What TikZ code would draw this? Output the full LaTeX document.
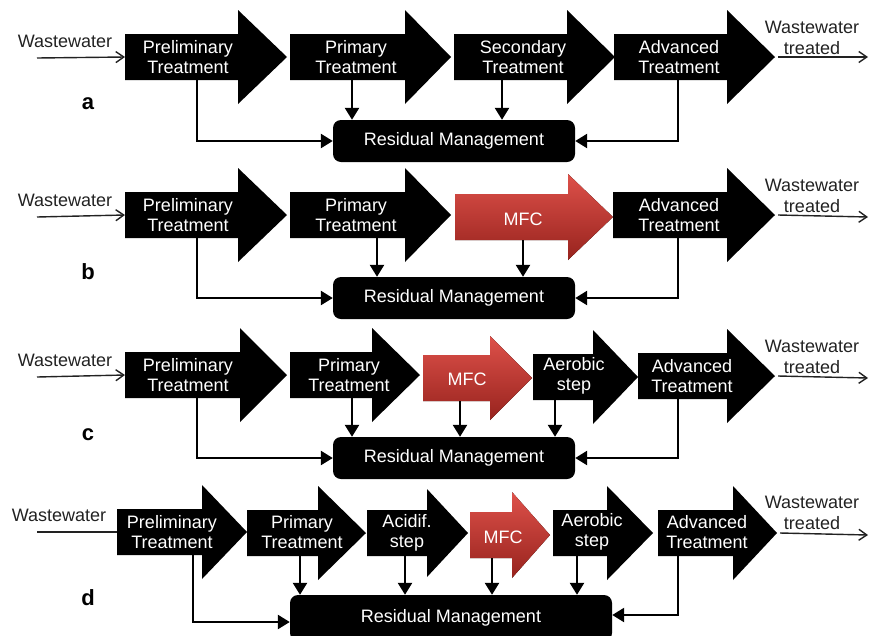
\documentclass[tikz,border=0pt]{standalone}
\usepackage{fontspec}
\setmainfont{Liberation Sans}
\usetikzlibrary{arrows.meta}
\definecolor{mfcred}{HTML}{D8322A}
\definecolor{inkgray}{HTML}{222222}

% block arrow: style, name, tail x, head x, tip x, centre y, half head width, outlet x
\newcommand{\stagearrow}[8][stagefill]{%
  \fill[#1] (#3,#6-23) -- (#4,#6-23) -- (#4,#6-#7) -- (#5,#6) -- (#4,#6+#7) -- (#4,#6+23) -- (#3,#6+23) -- cycle;
  \coordinate (#2-in) at (#3,#6);
  \coordinate (#2-tip) at (#5,#6);
  \coordinate (#2-out) at (#8,#6+23);}

\begin{document}
\begin{tikzpicture}[x=1pt, y=-1pt,
  font=\fontsize{18}{20.5}\selectfont,
  stagefill/.style={fill=black},
  mfcfill/.style={top color=mfcred!85!white, middle color=mfcred, bottom color=mfcred!70!black},
  txt/.style={text=white, align=center, inner sep=0pt},
  plain/.style={text=inkgray, align=center, inner sep=0pt},
  resid/.style={fill=black, rounded corners=8pt, text=white, minimum width=242pt, minimum height=42pt, inner sep=0pt},
  tag/.style={font=\fontsize{22}{24}\selectfont\bfseries, inner sep=0pt},
  flow/.style={draw=inkgray, line width=1.4pt, -{Straight Barb[length=8pt, width=11pt]}},
  feed/.style={line width=2.5pt, -{Triangle[length=12pt, width=14pt]}}
]
\useasboundingbox (0,0) rectangle (869,635);

% (a) conventional treatment
\stagearrow{preA}{125}{238}{287}{57}{47}{197}
\stagearrow{primA}{290}{405}{451}{57}{47}{352}
\stagearrow{secA}{454}{567}{615}{57}{47}{502}
\stagearrow{advA}{614}{727}{775}{57}{47}{678}
\node[txt] (preA) at (188,57) {Preliminary\\Treatment};
\node[txt] (primA) at (356,57) {Primary\\Treatment};
\node[txt] (secA) at (523,57) {Secondary\\Treatment};
\node[txt] (advA) at (679,57) {Advanced\\Treatment};
\node[resid] (resA) at (454,141) {Residual Management};
\node[tag] (labA) at (88,104) {a};
\node[plain] (wwA) at (65,41) {Wastewater};
\node[plain] (outA) at (812,38) {Wastewater\\treated};
\coordinate (wwA-from) at (37,58);
\coordinate (outA-to) at (868,57);
\draw[flow] (wwA-from) -- (preA-in);
\draw[flow] ([xshift=3pt]advA-tip) -- (outA-to);
\draw[feed] (preA-out) |- (resA);
\draw[feed] (primA-out) -- (primA-out |- resA.north);
\draw[feed] (secA-out) -- (secA-out |- resA.north);
\draw[feed] (advA-out) |- (resA);

% (b) MFC replaces secondary treatment
\stagearrow{preB}{125}{238}{287}{215}{47}{197}
\stagearrow{primB}{290}{405}{451}{215}{47}{377}
\stagearrow[mfcfill]{mfcB}{455}{568}{613}{217}{43}{523}
\stagearrow{advB}{613}{727}{775}{215}{47}{678}
\node[txt] (preB) at (188,215) {Preliminary\\Treatment};
\node[txt] (primB) at (356,215) {Primary\\Treatment};
\node[txt] (mfcB) at (523,219) {MFC};
\node[txt] (advB) at (679,215) {Advanced\\Treatment};
\node[resid] (resB) at (454,298) {Residual Management};
\node[tag] (labB) at (88,272) {b};
\node[plain] (wwB) at (65,200) {Wastewater};
\node[plain] (outB) at (812,196) {Wastewater\\treated};
\coordinate (wwB-from) at (37,217);
\coordinate (outB-to) at (868,217);
\draw[flow] (wwB-from) -- (preB-in);
\draw[flow] ([xshift=3pt]advB-tip) -- (outB-to);
\draw[feed] (preB-out) |- (resB);
\draw[feed] (primB-out) -- (primB-out |- resB.north);
\draw[feed] (mfcB-out) -- (mfcB-out |- resB.north);
\draw[feed] (advB-out) |- (resB);

% (c) MFC followed by an aerobic step
\stagearrow{preC}{125}{240}{287}{375}{47}{197}
\stagearrow{primC}{290}{372}{420}{375}{47}{352}
\stagearrow[mfcfill]{mfcC}{423}{490}{532}{378}{42}{460}
\stagearrow{aerC}{533}{593}{638}{377}{47}{555}
\stagearrow{advC}{638}{727}{775}{376}{47}{678}
\node[txt] (preC) at (188,375) {Preliminary\\Treatment};
\node[txt] (primC) at (349,375) {Primary\\Treatment};
\node[txt] (mfcC) at (467,379) {MFC};
\node[txt] (aerC) at (574,376) {Aerobic\\step};
\node[txt] (advC) at (692,376) {Advanced\\Treatment};
\node[resid] (resC) at (454,458) {Residual Management};
\node[tag] (labC) at (88,435) {c};
\node[plain] (wwC) at (65,360) {Wastewater};
\node[plain] (outC) at (812,357) {Wastewater\\treated};
\coordinate (wwC-from) at (37,377);
\coordinate (outC-to) at (868,378);
\draw[flow] (wwC-from) -- (preC-in);
\draw[flow] ([xshift=3pt]advC-tip) -- (outC-to);
\draw[feed] (preC-out) |- (resC);
\draw[feed] (primC-out) -- (primC-out |- resC.north);
\draw[feed] (mfcC-out) -- (mfcC-out |- resC.north);
\draw[feed] (aerC-out) -- (aerC-out |- resC.north);
\draw[feed] (advC-out) |- (resC);

% (d) acidification, MFC and aerobic steps
\stagearrow{preD}{117}{202}{247}{532}{47}{193}
\stagearrow{primD}{247}{318}{366}{533}{47}{300}
\stagearrow{acdD}{367}{427}{468}{533}{44}{405}
\stagearrow[mfcfill]{mfcD}{470}{512}{550}{535}{43}{492}
\stagearrow{aerD}{553}{607}{653}{533}{47}{577}
\stagearrow{advD}{658}{733}{777}{533}{47}{678}
\node[txt] (preD) at (172,532) {Preliminary\\Treatment};
\node[txt] (primD) at (302,532) {Primary\\Treatment};
\node[txt] (acdD) at (407,533) {Acidif.\\step};
\node[txt] (mfcD) at (503,537) {MFC};
\node[txt] (aerD) at (592,532) {Aerobic\\step};
\node[txt] (advD) at (707,532) {Advanced\\Treatment};
\node[resid, minimum width=322pt, minimum height=46pt] (resD) at (451,618) {Residual Management};
\node[tag] (labD) at (88,598) {d};
\node[plain] (wwD) at (59,515) {Wastewater};
\node[plain] (outD) at (812,513) {Wastewater\\treated};
\coordinate (wwD-from) at (37,532);
\coordinate (outD-to) at (868,535);
\draw[inkgray, line width=1.4pt] (wwD-from) -- (preD-in);
\draw[flow] ([xshift=3pt]advD-tip) -- (outD-to);
\draw[feed] (preD-out) |- ([yshift=-4pt]resD.west);
\draw[feed] (primD-out) -- (primD-out |- resD.north);
\draw[feed] (acdD-out) -- (acdD-out |- resD.north);
\draw[feed] (mfcD-out) -- (mfcD-out |- resD.north);
\draw[feed] (aerD-out) -- (aerD-out |- resD.north);
\draw[feed] (advD-out) |- ([yshift=3pt]resD.east);
\end{tikzpicture}
\end{document}
